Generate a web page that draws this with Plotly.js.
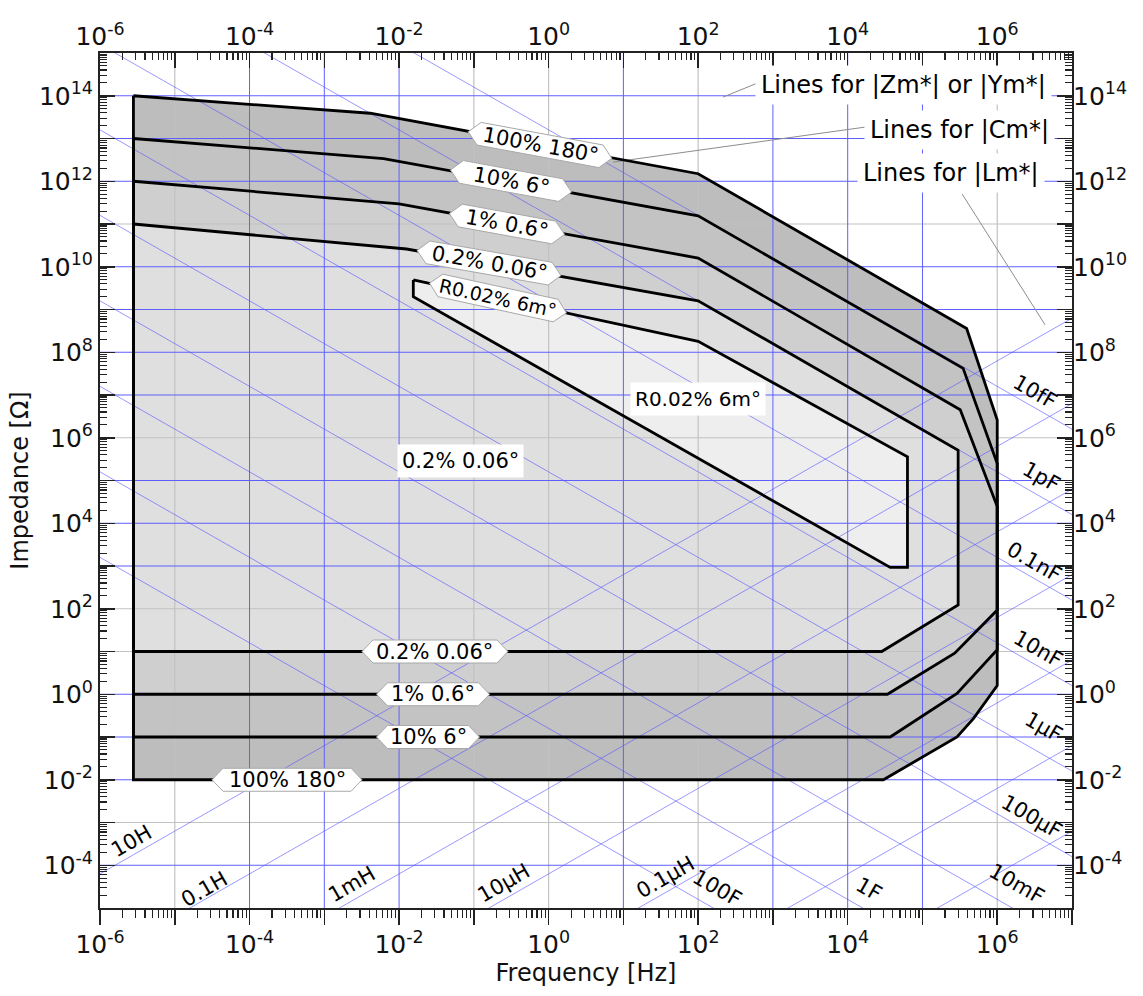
<!DOCTYPE html>
<html><head><meta charset="utf-8">
<script src="https://cdn.plot.ly/plotly-3.0.1.min.js"></script>
<style>html,body{margin:0;padding:0;background:#fff}#chart{width:1143px;height:996px}</style>
</head><body><div id="chart"></div>
<script>
// ---------- data: accuracy contours (frequency [Hz], |Z| [Ohm]) ----------
const c100F = [2.8e-6, 4.1e-3, 1e2, 3.9e5, 1e6, 1e6, 4.8e5, 2.9e5, 3.0e4, 2.8e-6, 2.8e-6];
const c100Z = [1e14, 3.9e13, 1.5e12, 3.6e8, 2.6e6, 1.6, 0.27, 0.1, 0.01, 0.01, 1e14];
const c10F  = [2.8e-6, 6.2e-3, 1e2, 3.5e5, 1e6, 1e6, 2.9e5, 3.7e4, 2.8e-6, 2.8e-6];
const c10Z  = [1e13, 3.4e12, 1.55e11, 4.2e7, 2.5e5, 11, 1.05, 0.1, 0.1, 1e13];
const c1F   = [2.8e-6, 1e-2, 1e2, 3.2e5, 1e6, 1e6, 2.7e5, 3.4e4, 2.8e-6, 2.8e-6];
const c1Z   = [1e12, 2.95e11, 1.6e10, 4.5e6, 2.45e4, 93, 9.1, 1, 1, 1e12];
const c02F  = [2.8e-6, 1.26e-2, 1e2, 3.0e5, 3.0e5, 2.85e4, 2.8e-6, 2.8e-6];
const c02Z  = [1e11, 2.6e10, 1.6e9, 5.1e5, 123, 10, 10, 1e11];
const cRF   = [1.55e-2, 1e2, 6.3e4, 6.3e4, 3.7e4, 1.55e-2, 1.55e-2];
const cRZ   = [4.9e9, 1.8e8, 3.6e5, 930, 930, 2e9, 4.9e9];

// contour labels
const contourText = ['100% 180\u00b0', '10% 6\u00b0', '1% 0.6\u00b0', '0.2% 0.06\u00b0', 'R0.02% 6m\u00b0', '0.2% 0.06\u00b0', '1% 0.6\u00b0', '10% 6\u00b0', '100% 180\u00b0'];

// reference lines
const capValues = [1e-14, 1e-12, 1e-10, 1e-8, 1e-6, 1e-4, 1e-2, 1, 1e2];
const capLabels = ['10fF', '1pF', '0.1nF', '10nF', '1\u00b5F', '100\u00b5F', '10mF', '1F', '100F'];
const indValues = [1e1, 1e-1, 1e-3, 1e-5, 1e-7, 1e-9, 1e-11];
const indLabels = ['10H', '0.1H', '1mH', '10\u00b5H', '0.1\u00b5H'];
const zLinesBlue = [1e14, 1e13, 1e12, 1e10, 1e9, 1e8, 1e7, 1e5, 1e4, 1e3, 1e0, 1e-1, 1e-2, 1e-4];
const fLinesBlue = [1e-4, 1e-3, 1e-2, 1e1, 1e3, 1e4, 1e5];

// ticks (every decade) and labelled ticks (every second decade)
const freqTicks = [1e-6,1e-5,1e-4,1e-3,1e-2,1e-1,1e0,1e1,1e2,1e3,1e4,1e5,1e6,1e7];
const freqLabelVals = [1e-6,1e-4,1e-2,1e0,1e2,1e4,1e6];
const freqLabelText = ['10<sup>-6</sup>','10<sup>-4</sup>','10<sup>-2</sup>','10<sup>0</sup>','10<sup>2</sup>','10<sup>4</sup>','10<sup>6</sup>'];
const zTicks = [1e-5,1e-4,1e-3,1e-2,1e-1,1e0,1e1,1e2,1e3,1e4,1e5,1e6,1e7,1e8,1e9,1e10,1e11,1e12,1e13,1e14,1e15];
const zLabelVals = [1e-4,1e-2,1e0,1e2,1e4,1e6,1e8,1e10,1e12,1e14];
const zLabelText = ['10<sup>-4</sup>','10<sup>-2</sup>','10<sup>0</sup>','10<sup>2</sup>','10<sup>4</sup>','10<sup>6</sup>','10<sup>8</sup>','10<sup>10</sup>','10<sup>12</sup>','10<sup>14</sup>'];

// ---------- build ----------
const FONT = 'DejaVu Sans, Verdana, sans-serif';
const W = 1143, H = 996, M = {l:100, r:71, t:53, b:88};
const X_RANGE = [-6, 7], Y_RANGE = [-5, 15];
const pxX = (W - M.l - M.r) / (X_RANGE[1] - X_RANGE[0]);   // px per decade
const pxY = (H - M.t - M.b) / (Y_RANGE[1] - Y_RANGE[0]);

function minorOf(ticks){ const out=[]; ticks.slice(0,-1).forEach(t=>{ for(let m=2;m<=9;m++) out.push(m*t); }); return out; }
const fMin = freqTicks[0], fMax = freqTicks[freqTicks.length-1];
const zMin = zTicks[0], zMax = zTicks[zTicks.length-1];

function gridTrace(fs, zs, color, width){
  const x=[], y=[];
  fs.forEach(f=>{ x.push(f,f,null); y.push(zMin,zMax,null); });
  zs.forEach(z=>{ x.push(fMin,fMax,null); y.push(z,z,null); });
  return {x, y, mode:'lines', line:{color, width}, hoverinfo:'skip', showlegend:false, connectgaps:false};
}
const traces = [];
const fills = [[c100F,c100Z,'#bdbdbd'],[c10F,c10Z,'#c3c3c3'],[c1F,c1Z,'#cfcfcf'],[c02F,c02Z,'#dfdfdf'],[cRF,cRZ,'#eeeeee']];
fills.forEach(([x,y,c])=>traces.push({x, y, mode:'lines', fill:'toself', fillcolor:c, line:{width:0, color:c}, hoverinfo:'skip', showlegend:false}));
const grayF = freqTicks.slice(1,-1).filter(f=>!fLinesBlue.includes(f));
const grayZ = zTicks.slice(1,-1).filter(z=>!zLinesBlue.includes(z));
traces.push(gridTrace(grayF, grayZ, '#c2c2c2', 1.2));
traces.push(gridTrace(fLinesBlue, zLinesBlue, 'rgb(95,95,255)', 1));
// |Cm*| lines: Z = 1/(2 pi f C) ; |Lm*| lines: Z = 2 pi f L
const ends = [1e-7, 1e8];
const cx=[], cy=[];
capValues.forEach(C=>{ ends.forEach(f=>{ cx.push(f); cy.push(1/(2*Math.PI*f*C)); }); cx.push(null); cy.push(null); });
traces.push({x:cx, y:cy, mode:'lines', line:{color:'rgba(85,85,255,0.6)', width:1}, hoverinfo:'skip', showlegend:false});
const lx=[], ly=[];
indValues.forEach(L=>{ ends.forEach(f=>{ lx.push(f); ly.push(2*Math.PI*f*L); }); lx.push(null); ly.push(null); });
traces.push({x:lx, y:ly, mode:'lines', line:{color:'rgba(85,85,255,0.6)', width:1}, hoverinfo:'skip', showlegend:false});
// leader lines for the legend texts
const leaders = [[[215, 630],[9.3e13, 2.0e14]], [[7.3, 1.76e4],[2.8e12, 1.86e13]], [[3.4e5, 4.36e6],[5.0e11, 4.4e8]]];
leaders.forEach(([x,y])=>traces.push({x, y, mode:'lines', line:{color:'#8c8c8c', width:1}, hoverinfo:'skip', showlegend:false}));
// contour outlines
fills.forEach(([x,y])=>traces.push({x, y, mode:'lines', line:{color:'#000', width:2.8}, hoverinfo:'skip', showlegend:false}));

// hexagonal label boxes on the contours: [log f centre, log Z centre, angle deg, box width px, font px]
const labelPlace = [[-0.115,12.848,10.5,146,21],[-0.503,12.006,10.4,123,21],[-0.557,11.0,10.3,117,21],[-0.797,10.088,9.9,146,21],[-0.677,9.269,12.3,140,19],
                    [-1.52,1,0,146,21],[-1.546,0,0,113,21],[-1.613,-1,0,103,21],[-3.499,-2,0,150,21]];
const BOX_H = 23;
const ann = [];
labelPlace.forEach(([lf,lz,a,bw,fs],i)=>{
  const h2 = BOX_H/2, w2 = bw/2, d = 11;
  const pts = [[-w2,0],[-w2+d,-h2],[w2-d,-h2],[w2,0],[w2-d,h2],[-w2+d,h2],[-w2,0]];
  const r = a*Math.PI/180, ca = Math.cos(r), sa = Math.sin(r);
  const hx=[], hy=[];
  pts.forEach(([px,py])=>{
    const rx = px*ca - py*sa, ry = px*sa + py*ca;
    hx.push(Math.pow(10, lf + rx/pxX)); hy.push(Math.pow(10, lz - ry/pxY));
  });
  traces.push({x:hx, y:hy, mode:'lines', fill:'toself', fillcolor:'#fff', line:{color:'#a8a8a8', width:1}, hoverinfo:'skip', showlegend:false});
  ann.push({x:lf, y:lz, xref:'x', yref:'y', text:contourText[i], textangle:a, showarrow:false, font:{family:FONT, size:fs, color:'#000'}});
});
// dummy traces to activate the mirrored / label axes
[['x2','y'],['x3','y'],['x4','y'],['x','y2'],['x','y3'],['x','y4']].forEach(([xa,ya])=>traces.push({x:[1], y:[1], xaxis:xa, yaxis:ya, mode:'markers', marker:{opacity:0}, hoverinfo:'skip', showlegend:false}));

// ---------- other annotations ----------
[['R0.02% 6m\u00b0', 1.998, 6.906, 20], ['0.2% 0.06\u00b0', -1.185, 5.456, 21]].forEach(([t,x,y,fs])=>ann.push({x, y, xref:'x', yref:'y', text:t, showarrow:false,
  font:{family:FONT, size:fs, color:'#000'}, bgcolor:'#fff', borderpad:4}));
const capPos = [[6.505,7.077],[6.594,5.089],[6.492,3.101],[6.549,1.058],[6.616,-0.773],[6.469,-2.864],[6.260,-4.439],[4.276,-4.563],[2.248,-4.539]];
capLabels.forEach((t,i)=>ann.push({x:capPos[i][0], y:capPos[i][1], xref:'x', yref:'y', text:t, textangle:29.8, showarrow:false, font:{family:FONT, size:21, color:'#000'}}));
const indPos = [[-5.576,-3.426],[-4.596,-4.563],[-2.626,-4.439],[-0.597,-4.422],[1.566,-4.268]];
indLabels.forEach((t,i)=>ann.push({x:indPos[i][0], y:indPos[i][1], xref:'x', yref:'y', text:t, textangle:-29.8, showarrow:false, font:{family:FONT, size:21, color:'#000'}}));
[['Lines for |Zm*| or |Ym*|', 6.73, 14.25], ['Lines for |Cm*|', 6.77, 13.20], ['Lines for |Lm*|', 6.64, 12.19]].forEach(([t,x,y])=>ann.push({x, y, xref:'x', yref:'y', text:t, xanchor:'right', showarrow:false,
  font:{family:FONT, size:24, color:'#000'}, bgcolor:'#fff', borderpad:5}));

// ---------- layout ----------
const tickFont = {family:FONT, size:25, color:'#111'};
// tick axes: every decade + minor ticks, no labels
const tickAxis = {type:'log', showgrid:false, zeroline:false, showline:true, linecolor:'#222', linewidth:2,
  tickmode:'array', tickcolor:'#222', tickwidth:1.5, ticklen:15, showticklabels:false, automargin:false};
// label axes: every second decade, labels only
const labelAxis = {type:'log', showgrid:false, zeroline:false, showline:false, tickmode:'array', ticks:'',
  tickfont:tickFont, automargin:false};
const minorX = (t)=>({tickmode:'array', tickvals:minorOf(freqTicks), ticks:t, ticklen:t==='outside'?8:7, tickwidth:1.2, tickcolor:'#222'});
const minorY = {tickmode:'array', tickvals:minorOf(zTicks), ticks:'inside', ticklen:7, tickwidth:1.2, tickcolor:'#222'};
const layout = {
  width:W, height:H, margin:M, paper_bgcolor:'#fff', plot_bgcolor:'#fff',
  showlegend:false, hovermode:false, font:{family:FONT},
  xaxis:Object.assign({}, tickAxis, {range:X_RANGE, tickvals:freqTicks, ticks:'outside', minor:minorX('outside')}),
  xaxis2:Object.assign({}, tickAxis, {range:X_RANGE, overlaying:'x', side:'top', anchor:'y', tickvals:freqTicks, ticks:'inside', minor:minorX('inside')}),
  xaxis3:Object.assign({}, labelAxis, {range:X_RANGE, overlaying:'x', side:'bottom', anchor:'y', tickvals:freqLabelVals, ticktext:freqLabelText, ticklabelstandoff:19,
    title:{text:'Frequency [Hz]', font:{family:FONT, size:24, color:'#111'}, standoff:2}}),
  xaxis4:Object.assign({}, labelAxis, {range:X_RANGE, overlaying:'x', side:'top', anchor:'y', tickvals:freqLabelVals, ticktext:freqLabelText, ticklabelstandoff:2}),
  yaxis:Object.assign({}, tickAxis, {range:Y_RANGE, tickvals:zTicks, ticks:'inside', minor:minorY}),
  yaxis2:Object.assign({}, tickAxis, {range:Y_RANGE, overlaying:'y', side:'right', anchor:'x', tickvals:zTicks, ticks:'inside', minor:minorY}),
  yaxis3:Object.assign({}, labelAxis, {range:Y_RANGE, overlaying:'y', side:'left', anchor:'x', tickvals:zLabelVals, ticktext:zLabelText, ticklabelstandoff:6,
    title:{text:'Impedance [\u03a9]', font:{family:FONT, size:24, color:'#111'}, standoff:3}}),
  yaxis4:Object.assign({}, labelAxis, {range:Y_RANGE, overlaying:'y', side:'right', anchor:'x', tickvals:zLabelVals, ticktext:zLabelText, ticklabelstandoff:0}),
  annotations:ann
};
Plotly.newPlot('chart', traces, layout, {staticPlot:true, displayModeBar:false});
</script></body></html>
